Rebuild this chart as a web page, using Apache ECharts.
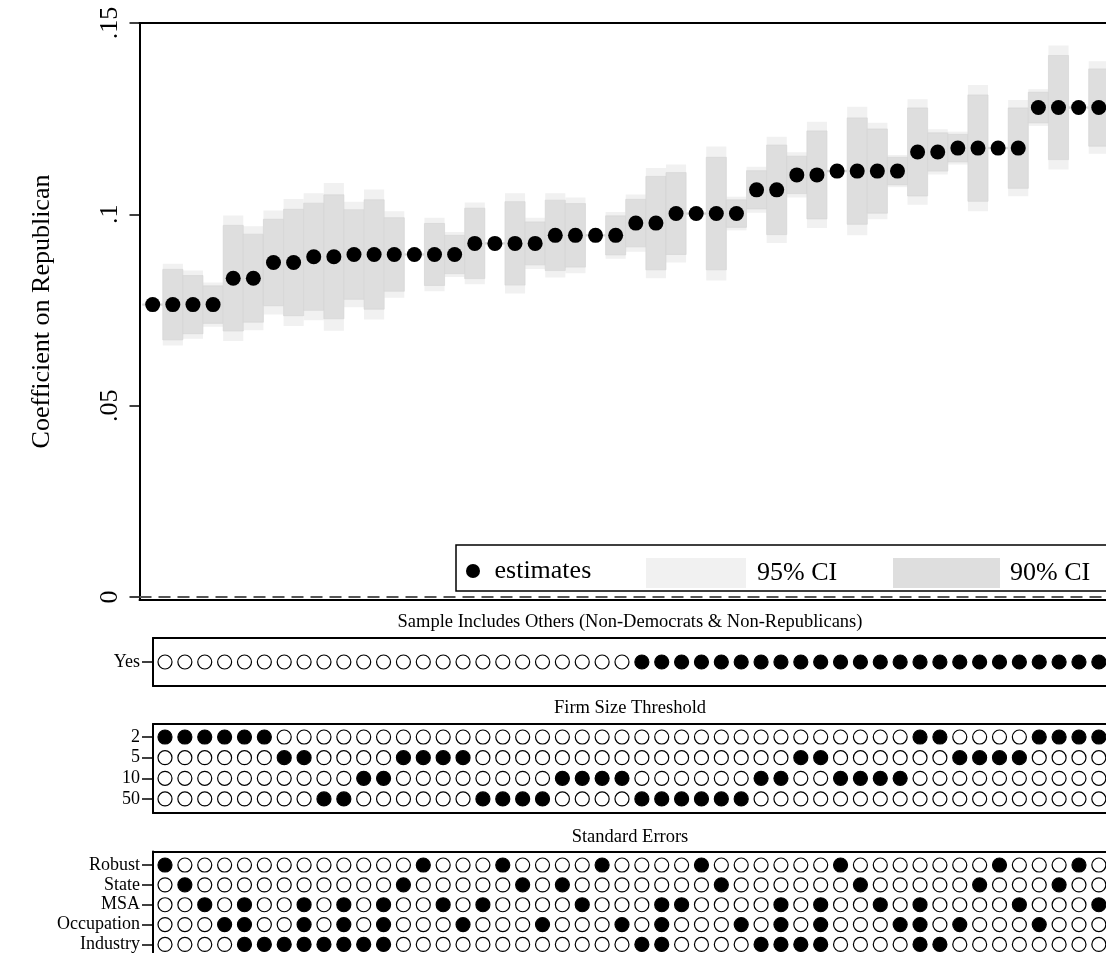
<!DOCTYPE html>
<html>
<head>
<meta charset="utf-8">
<script src="https://cdn.jsdelivr.net/npm/echarts@6/dist/echarts.min.js"></script>
<style>
  html, body { margin: 0; padding: 0; background: #fff; }
  #chart { width: 1106px; height: 953px; }
</style>
</head>
<body>
<div id="chart"></div>
<script>
// Specification curve: coefficient on Republican across 48 model specifications
const specIds = [1,2,3,4,5,6,7,8,9,10,11,12,13,14,15,16,17,18,19,20,21,22,23,24,
                 25,26,27,28,29,30,31,32,33,34,35,36,37,38,39,40,41,42,43,44,45,46,47,48];

const estimates = [0.0764,0.0764,0.0764,0.0764,0.0833,0.0833,0.0874,0.0874,0.0889,0.0889,0.0895,0.0895,
                   0.0895,0.0895,0.0895,0.0895,0.0924,0.0924,0.0924,0.0924,0.0945,0.0945,0.0945,0.0945,
                   0.0977,0.0977,0.1002,0.1002,0.1002,0.1002,0.1064,0.1064,0.1103,0.1103,0.1113,0.1113,
                   0.1113,0.1113,0.1163,0.1163,0.1173,0.1173,0.1173,0.1173,0.1279,0.1279,0.1279,0.1279];

const ci95Low  = [0.0762,0.0657,0.0675,0.0706,0.0669,0.0697,0.0738,0.0708,0.0723,0.0696,0.0757,0.0725,
                  0.0782,0.0893,0.0799,0.0836,0.0817,0.0922,0.0793,0.0857,0.0835,0.0846,0.0943,0.0884,
                  0.0902,0.0833,0.0874,0.1000,0.0827,0.0958,0.1004,0.0925,0.1044,0.0964,0.1111,0.0945,
                  0.0987,0.1071,0.1025,0.1104,0.1130,0.1008,0.1171,0.1047,0.1231,0.1117,0.1277,0.1158];
const ci95High = [0.0766,0.0871,0.0853,0.0822,0.0997,0.0969,0.1010,0.1040,0.1055,0.1082,0.1033,0.1065,
                  0.1008,0.0897,0.0991,0.0954,0.1031,0.0926,0.1055,0.0991,0.1055,0.1044,0.0947,0.1006,
                  0.1052,0.1121,0.1130,0.1004,0.1177,0.1046,0.1124,0.1203,0.1162,0.1242,0.1115,0.1281,
                  0.1239,0.1155,0.1301,0.1222,0.1216,0.1338,0.1175,0.1299,0.1327,0.1441,0.1281,0.1400];
const ci90Low  = [0.0762,0.0672,0.0688,0.0715,0.0695,0.0718,0.0761,0.0735,0.0749,0.0727,0.0778,0.0752,
                  0.0799,0.0893,0.0814,0.0845,0.0832,0.0922,0.0815,0.0868,0.0853,0.0862,0.0943,0.0894,
                  0.0915,0.0855,0.0895,0.1000,0.0855,0.0966,0.1014,0.0947,0.1054,0.0988,0.1111,0.0974,
                  0.1003,0.1077,0.1048,0.1113,0.1137,0.1034,0.1171,0.1068,0.1239,0.1143,0.1277,0.1178];
const ci90High = [0.0766,0.0856,0.0840,0.0813,0.0971,0.0948,0.0987,0.1013,0.1029,0.1051,0.1012,0.1038,
                  0.0991,0.0897,0.0976,0.0945,0.1016,0.0926,0.1033,0.0980,0.1037,0.1028,0.0947,0.0996,
                  0.1039,0.1099,0.1109,0.1004,0.1149,0.1038,0.1114,0.1181,0.1152,0.1218,0.1115,0.1252,
                  0.1223,0.1149,0.1278,0.1213,0.1209,0.1312,0.1175,0.1278,0.1319,0.1415,0.1281,0.1380];

const yTickValues = [0, 0.05, 0.1, 0.15];
const yTickLabels = ['0', '.05', '.1', '.15'];

// Specification choices
const includesOthers = [0,0,0,0,0,0,0,0,0,0,0,0,0,0,0,0,0,0,0,0,0,0,0,0,
                        1,1,1,1,1,1,1,1,1,1,1,1,1,1,1,1,1,1,1,1,1,1,1,1];
const sampleLevels = ['Yes'];

const firmSizeLevels = ['2', '5', '10', '50'];
const firmSize = [2,2,2,2,2,2,5,5,50,50,10,10,5,5,5,5,50,50,50,50,10,10,10,10,
                  50,50,50,50,50,50,10,10,5,5,10,10,10,10,2,2,5,5,5,5,2,2,2,2];

const seLevels = ['Robust', 'State', 'MSA', 'Occupation', 'Industry'];
const seCodeMembers = { R: ['Robust'], S: ['State'], M: ['MSA'], O: ['Occupation'], I: ['Industry'],
                        MOI: ['MSA', 'Occupation', 'Industry'] };
const seClusters = ['R','S','M','O','MOI','I','I','MOI','I','MOI','I','MOI','S','R','M','O','M','R','S','O','S','M','R','O',
                    'I','MOI','M','R','S','O','I','MOI','I','MOI','R','S','M','O','MOI','I','O','S','R','M','O','S','R','M'];

const FONT = "'Liberation Serif', 'Times New Roman', serif";
const PANEL_X = { min: 0.396, max: 48.36 };
const MAIN_X = { min: 0.344, max: 48.36 };

function bandSeries(name, low, high, fill, stroke) {
  return {
    type: 'custom', name: name, xAxisIndex: 0, yAxisIndex: 0, z: 1,
    itemStyle: { color: fill },
    data: specIds.map((s, i) => [s, low[i], high[i]]),
    encode: { x: 0, y: [1, 2] },
    renderItem: (params, api) => {
      const x = api.value(0);
      const lo = api.coord([x, api.value(1)]);
      const hi = api.coord([x, api.value(2)]);
      const w = api.size([1, 0])[0];
      return {
        type: 'rect',
        shape: { x: lo[0] - w / 2, y: hi[1], width: w, height: Math.max(lo[1] - hi[1], 1) },
        style: { fill: fill, stroke: stroke, lineWidth: stroke ? 0.6 : 0 }
      };
    }
  };
}

function dotRows(xIdx, yIdx, levels, isOn) {
  return levels.map((lvl, r) => ({
    type: 'scatter', xAxisIndex: xIdx, yAxisIndex: yIdx,
    symbol: 'circle', symbolSize: 14, silent: true,
    data: specIds.map((s, i) => [s, r, isOn(i, lvl) ? 1 : 0]),
    itemStyle: {
      color: p => (p.value[2] ? '#000' : '#fff'),
      borderColor: '#000', borderWidth: 1.2, opacity: 1
    }
  }));
}

// frame edges are drawn as axis lines so the right side stays open
function frameX(gridIdx, position, range, width) {
  return {
    gridIndex: gridIdx, type: 'value', min: range.min, max: range.max, position: position,
    axisLine: { show: true, onZero: false, lineStyle: { color: '#000', width: width } },
    axisTick: { show: false }, axisLabel: { show: false }, splitLine: { show: false }
  };
}

function panelY(gridIdx, levels, min, max) {
  const vals = levels.map((l, i) => i);
  return {
    gridIndex: gridIdx, type: 'value', inverse: true, min: min, max: max,
    axisLine: { show: true, onZero: false, lineStyle: { color: '#000', width: 2 } },
    axisTick: { show: true, length: 11, lineStyle: { color: '#000', width: 1.5 }, customValues: vals },
    axisLabel: { customValues: vals, margin: 13, fontSize: 18, fontFamily: FONT, color: '#000',
                 formatter: v => levels[Math.round(v)] },
    splitLine: { show: false }
  };
}

const titleStyle = { fontSize: 18.5, fontWeight: 'normal', fontFamily: FONT, color: '#000' };

const option = {
  animation: false,
  backgroundColor: '#fff',
  title: [
    { text: 'Sample Includes Others (Non-Democrats & Non-Republicans)', left: 630, top: 613, textAlign: 'center', padding: 0, textStyle: titleStyle },
    { text: 'Firm Size Threshold', left: 630, top: 699, textAlign: 'center', padding: 0, textStyle: titleStyle },
    { text: 'Standard Errors', left: 630, top: 828, textAlign: 'center', padding: 0, textStyle: titleStyle }
  ],
  graphic: [{
    type: 'rect', z: 3,
    shape: { x: 456, y: 545, width: 700, height: 46 },
    style: { fill: '#fff', stroke: '#000', lineWidth: 1.5 }
  }],
  legend: [
    { data: [{ name: 'estimates', icon: 'circle' }], left: 466, top: 558, padding: 0, z: 5,
      itemWidth: 33, itemHeight: 14, selectedMode: false,
      textStyle: { fontSize: 26, fontFamily: FONT, color: '#000', padding: [12, 0, 0, 0] } },
    { data: [{ name: '95% CI', icon: 'rect' }], left: 646, top: 558, padding: 0, z: 5,
      itemWidth: 100, itemHeight: 30, selectedMode: false,
      textStyle: { fontSize: 26, fontFamily: FONT, color: '#000', padding: [10, 0, 0, 6] } },
    { data: [{ name: '90% CI', icon: 'rect' }], left: 893, top: 558, padding: 0, z: 5,
      itemWidth: 107, itemHeight: 30, selectedMode: false,
      textStyle: { fontSize: 26, fontFamily: FONT, color: '#000', padding: [10, 0, 0, 5] } }
  ],
  grid: [
    { left: 139.5, right: 0, top: 23, height: 577, outerBoundsMode: 'none' },
    { left: 153, right: 0, top: 638, height: 48, outerBoundsMode: 'none' },
    { left: 153, right: 0, top: 724, height: 89, outerBoundsMode: 'none' },
    { left: 153, right: 0, top: 851.5, height: 101.5, outerBoundsMode: 'none' }
  ],
  xAxis: [
    frameX(0, 'bottom', MAIN_X, 2),   // 0: coefficient plot, bottom edge
    frameX(0, 'top', MAIN_X, 1.8),    // 1: coefficient plot, top edge
    frameX(1, 'bottom', PANEL_X, 2),  // 2
    frameX(1, 'top', PANEL_X, 2),     // 3
    frameX(2, 'bottom', PANEL_X, 2),  // 4
    frameX(2, 'top', PANEL_X, 2),     // 5
    frameX(3, 'top', PANEL_X, 2)      // 6
  ],
  yAxis: [
    { gridIndex: 0, type: 'value', min: -0.0008, max: 0.15,
      axisLine: { show: true, onZero: false, lineStyle: { color: '#000', width: 2 } },
      axisTick: { show: true, length: 10, lineStyle: { color: '#000', width: 1.5 }, customValues: yTickValues },
      axisLabel: { customValues: yTickValues, rotate: 90, margin: 16, fontSize: 26, fontFamily: FONT, color: '#000',
                   formatter: v => yTickLabels[yTickValues.findIndex(t => Math.abs(t - v) < 1e-6)] },
      splitLine: { show: false },
      name: 'Coefficient on Republican', nameLocation: 'middle', nameRotate: 90, nameGap: 84,
      nameTextStyle: { fontSize: 26, fontFamily: FONT, color: '#000' } },
    panelY(1, sampleLevels, -1, 1),
    panelY(2, firmSizeLevels, -0.63, 3.68),
    panelY(3, seLevels, -0.68, 4.43)
  ],
  series: [
    bandSeries('95% CI', ci95Low, ci95High, '#f1f1f1', null),
    bandSeries('90% CI', ci90Low, ci90High, '#dedede', '#d3d3d3'),
    {
      type: 'scatter', name: 'estimates', xAxisIndex: 0, yAxisIndex: 0, z: 3,
      symbol: 'circle', symbolSize: 15,
      itemStyle: { color: '#000', opacity: 1 },
      data: specIds.map((s, i) => [s, estimates[i]]),
      markLine: {
        silent: true, symbol: 'none', label: { show: false },
        lineStyle: { color: '#555', type: [12, 7], width: 1.8 },
        data: [{ yAxis: 0 }]
      }
    },
    ...dotRows(2, 1, sampleLevels, (i) => includesOthers[i] === 1),
    ...dotRows(4, 2, firmSizeLevels, (i, lvl) => String(firmSize[i]) === lvl),
    ...dotRows(6, 3, seLevels, (i, lvl) => seCodeMembers[seClusters[i]].includes(lvl))
  ]
};

const chart = echarts.init(document.getElementById('chart'), null, { renderer: 'canvas' });
chart.setOption(option);
</script>
</body>
</html>
